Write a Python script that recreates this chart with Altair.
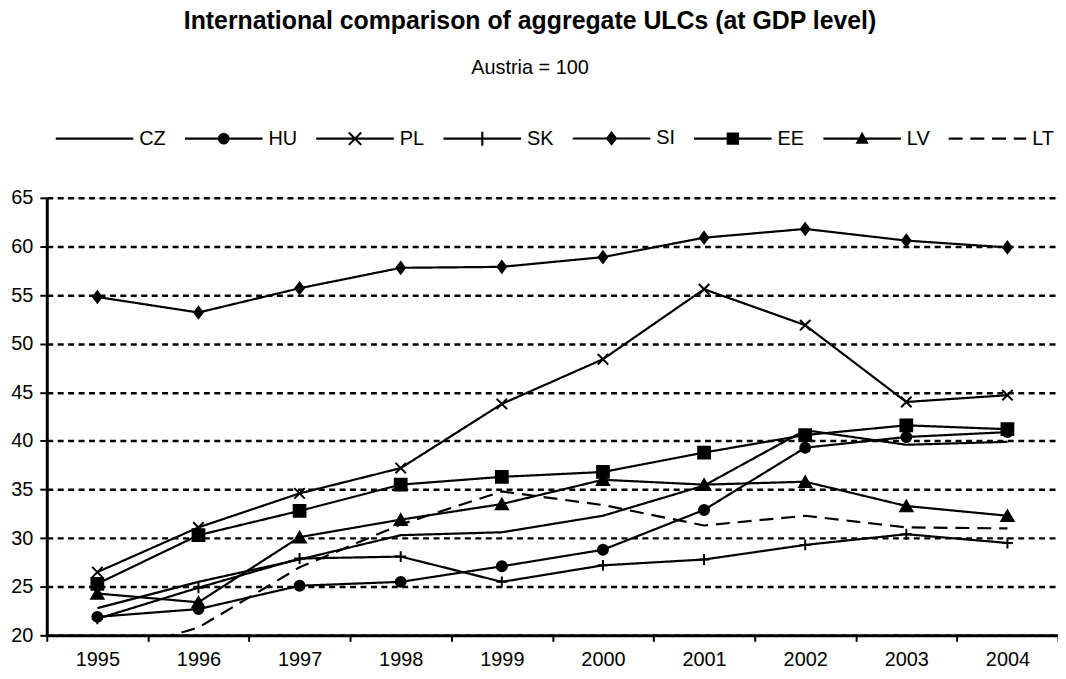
import math
import altair as alt
import pandas as pd

years = [1995, 1996, 1997, 1998, 1999, 2000, 2001, 2002, 2003, 2004]
series = ["CZ", "HU", "PL", "SK", "SI", "EE", "LV", "LT"]

CZ = [22.8, 25.5, 27.8, 30.3, 30.6, 32.3, 35.4, 41.1, 39.6, 39.9]
HU = [21.9, 22.7, 25.1, 25.5, 27.1, 28.8, 32.9, 39.3, 40.4, 40.9]
PL = [26.5, 31.1, 34.6, 37.2, 43.8, 48.4, 55.6, 51.9, 44.0, 44.7]
SK = [21.7, 24.9, 27.9, 28.1, 25.5, 27.2, 27.8, 29.3, 30.4, 29.5]
SI = [54.8, 53.2, 55.7, 57.8, 57.9, 58.9, 60.9, 61.8, 60.6, 59.9]
EE = [25.3, 30.3, 32.8, 35.5, 36.3, 36.8, 38.8, 40.6, 41.6, 41.2]
LV = [24.3, 23.4, 30.1, 31.9, 33.5, 36.0, 35.5, 35.8, 33.3, 32.3]
LT = [17.8, 20.8, 27.0, 31.4, 34.8, 33.4, 31.3, 32.3, 31.1, 31.0]

title_text = "International comparison of aggregate ULCs (at GDP level)"
subtitle_text = "Austria = 100"
y_ticks = [20, 25, 30, 35, 40, 45, 50, 55, 60, 65]

values = {"CZ": CZ, "HU": HU, "PL": PL, "SK": SK, "SI": SI, "EE": EE, "LV": LV, "LT": LT}
rows = []
for s in series:
    for yr, v in zip(years, values[s]):
        rows.append({"year": yr, "series": s, "value": v})
df = pd.DataFrame(rows)

FONT = "Liberation Sans"

# ---- marker shapes used in the plot ----
X_PATH = "M-1,-1L1,1M-1,1L1,-1"
PLUS_PATH = "M-1,0L1,0M0,-1L0,1"
DIAMOND_PATH = "M0,-1L0.75,0L0,1L-0.75,0Z"
marker_series = ["HU", "PL", "SK", "SI", "EE", "LV"]
marker_shapes = ["circle", X_PATH, PLUS_PATH, DIAMOND_PATH, "square", "triangle-up"]
marker_sizes = [100, 150, 160, 150, 140, 160]


# ---- legend symbols: filled polygons (line segment + marker) ----
def poly(pts):
    area = 0.0
    for i in range(len(pts)):
        x1, y1 = pts[i]
        x2, y2 = pts[(i + 1) % len(pts)]
        area += x1 * y2 - x2 * y1
    if area < 0:
        pts = pts[::-1]
    return "M" + "L".join("%.4f,%.4f" % p for p in pts) + "Z"


def seg(x1, y1, x2, y2, t=0.027):
    dx, dy = x2 - x1, y2 - y1
    L = math.hypot(dx, dy)
    nx, ny = -dy / L * t, dx / L * t
    return poly([(x1 + nx, y1 + ny), (x2 + nx, y2 + ny), (x2 - nx, y2 - ny), (x1 - nx, y1 - ny)])


LINE = seg(-1, 0, 1, 0)
CIRC = poly([(0.15 * math.cos(2 * math.pi * k / 20), 0.15 * math.sin(2 * math.pi * k / 20)) for k in range(20)])
XMARK = seg(-0.16, -0.16, 0.16, 0.16) + seg(-0.16, 0.16, 0.16, -0.16)
PLUS = seg(0, -0.18, 0, 0.18)
DIAM = poly([(0, -0.19), (0.15, 0), (0, 0.19), (-0.15, 0)])
SQR = poly([(-0.16, -0.16), (0.16, -0.16), (0.16, 0.16), (-0.16, 0.16)])
TRI = poly([(0, -0.18), (0.17, 0.13), (-0.17, 0.13)])
DASHES = "".join(seg(a, 0, b, 0) for a, b in [(-1, -0.64), (-0.44, -0.08), (0.12, 0.48), (0.68, 1.0)])

legend_paths = [
    LINE,
    LINE + CIRC,
    LINE + XMARK,
    LINE + PLUS,
    LINE + DIAM,
    LINE + SQR,
    LINE + TRI,
    DASHES,
]

x_enc = alt.X(
    "year:O",
    scale=alt.Scale(type="band", paddingInner=0, paddingOuter=0),
    axis=alt.Axis(
        title=None, tickBand="extent", labelAngle=0, grid=False,
        domainColor="black", domainWidth=3, tickColor="black", tickSize=6, tickWidth=2,
        labelFont=FONT, labelFontSize=20, labelColor="black", labelPadding=8,
    ),
)
y_enc = alt.Y(
    "value:Q",
    scale=alt.Scale(domain=[20, 65], nice=False, zero=False),
    axis=alt.Axis(
        title=None, values=y_ticks, grid=True, gridColor="black", gridDash=[6, 4.5], gridWidth=2.5,
        domainColor="black", domainWidth=3, tickColor="black", tickSize=7, tickWidth=2,
        labelFont=FONT, labelFontSize=20, labelColor="black", labelPadding=7,
    ),
)

base = alt.Chart(df)

lines = base.mark_line(color="black", strokeWidth=2.2, clip=True).encode(
    x=x_enc,
    y=y_enc,
    detail="series:N",
    strokeDash=alt.StrokeDash(
        "series:N",
        scale=alt.Scale(domain=series, range=[[1, 0]] * 7 + [[14, 8]]),
        legend=None,
    ),
)

points = base.transform_filter(
    alt.FieldOneOfPredicate(field="series", oneOf=marker_series)
).mark_point(filled=True, fill="black", stroke="black", strokeWidth=2, opacity=1, clip=True).encode(
    x=x_enc,
    y=y_enc,
    shape=alt.Shape("series:N", scale=alt.Scale(domain=marker_series, range=marker_shapes), legend=None),
    size=alt.Size("series:N", scale=alt.Scale(domain=marker_series, range=marker_sizes), legend=None),
)

legend_layer = base.transform_filter("false").mark_point(
    filled=True, fill="black", opacity=1
).encode(
    shape=alt.Shape(
        "series:N",
        scale=alt.Scale(domain=series, range=legend_paths),
        legend=alt.Legend(
            title=None, orient="none", legendX=8, legendY=-100, direction="horizontal",
            columns=8, symbolSize=6084, symbolFillColor="black",
            labelFont=FONT, labelFontSize=20, labelColor="black",
            labelOffset=5, columnPadding=16, padding=0, symbolOpacity=1,
        ),
    ),
)

title_df = pd.DataFrame({"t": [title_text]})
sub_df = pd.DataFrame({"t": [subtitle_text]})
title_layer = alt.Chart(title_df).mark_text(
    font=FONT, fontSize=25, fontWeight="bold", color="black", align="center", baseline="alphabetic"
).encode(text="t:N", x=alt.value(486), y=alt.value(-170))
sub_layer = alt.Chart(sub_df).mark_text(
    font=FONT, fontSize=20, color="black", align="center", baseline="middle"
).encode(text="t:N", x=alt.value(486), y=alt.value(-131))

chart = alt.layer(lines, points, legend_layer, title_layer, sub_layer).resolve_scale(
    shape="independent", size="independent"
).properties(
    width=1017,
    height=440,
    padding={"left": 39, "top": 189, "right": 0, "bottom": 40},
    autosize="none",
).configure_view(stroke="black", strokeWidth=1.5).configure(background="white")

chart.save("out.html", embed_options={"renderer": "svg", "actions": False})
